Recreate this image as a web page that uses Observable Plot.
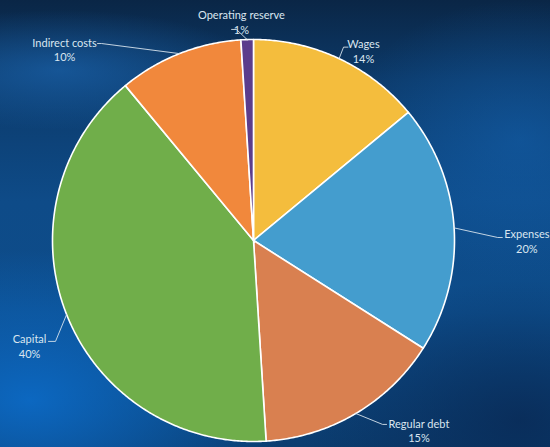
<!DOCTYPE html>
<html><head><meta charset="utf-8">
<script src="https://cdn.jsdelivr.net/npm/d3@7"></script>
<script src="https://cdn.jsdelivr.net/npm/@observablehq/plot@0.6"></script>
<style>
html,body{margin:0;padding:0;width:550px;height:447px;overflow:hidden;}
body{
  background:
    radial-gradient(ellipse 260px 150px at 30px 400px, rgba(12,110,205,0.85), rgba(12,110,205,0) 100%),
    radial-gradient(ellipse 200px 60px at 60px 70px, rgba(30,110,190,0.55), rgba(30,110,190,0) 100%),
    radial-gradient(ellipse 180px 140px at 520px 140px, rgba(20,100,180,0.5), rgba(20,100,180,0) 100%),
    radial-gradient(ellipse 220px 140px at 520px 420px, rgba(8,38,80,0.7), rgba(8,38,80,0) 100%),
    linear-gradient(180deg, #0a2646 0%, #0c3a6a 18%, #0e4b88 45%, #0d4c8a 70%, #0b3d70 100%);
}
#chart svg{display:block;background:transparent;}
</style></head><body><div id="chart"></div>
<script>
// ---- data ----
const categories = ["Wages", "Expenses", "Regular debt", "Capital", "Indirect costs", "Operating reserve"];
const shares = [14, 20, 15, 40, 10, 1];
const sliceColors = ["#f4bd3d", "#449dce", "#d98050", "#70ae4a", "#f1883c", "#5c3d8c"];

// ---- layout (unit-circle coordinates, not data) ----
const labelAt = [[0.547, 0.943], [1.360, -0.002], [0.823, -0.945], [-1.114, -0.525], [-0.940, 0.950], [-0.060, 1.087]];
const leaderElbow = [[0.448, 0.962], [1.215, 0.015], [0.642, -0.915], [-0.985, -0.502], [-0.756, 0.980], [-0.085, 1.050]];
const leaderEnd = [[0.470, 0.962], [1.238, 0.015], [0.662, -0.915], [-1.020, -0.502], [-0.776, 0.980], [-0.109, 1.050]];

const total = d3.sum(shares);
const cum = d3.cumsum(shares);
const slices = categories.map((name, i) => {
  const a0 = (cum[i] - shares[i]) / total * 360;
  const a1 = cum[i] / total * 360;
  return {name, share: shares[i], a0, a1, mid: (a0 + a1) / 2};
});
const rad = Math.PI / 180;
const pt = (deg, r = 1) => [r * Math.sin(deg * rad), r * Math.cos(deg * rad)];

const sliceRows = [];
for (const s of slices) {
  sliceRows.push({name: s.name, x: 0, y: 0});
  const n = Math.max(2, Math.ceil((s.a1 - s.a0) / 0.5));
  for (let k = 0; k <= n; k++) {
    const [x, y] = pt(s.a0 + (s.a1 - s.a0) * k / n);
    sliceRows.push({name: s.name, x, y});
  }
  sliceRows.push({name: s.name, x: 0, y: 0});
}

const leaderRows = [];
slices.forEach((s, i) => {
  const [sx, sy] = pt(s.mid);
  leaderRows.push({name: s.name, x: sx, y: sy});
  leaderRows.push({name: s.name, x: leaderElbow[i][0], y: leaderElbow[i][1]});
  leaderRows.push({name: s.name, x: leaderEnd[i][0], y: leaderEnd[i][1]});
});

const labelRows = slices.map((s, i) => ({
  name: s.name, x: labelAt[i][0], y: labelAt[i][1], text: `${s.name}\n${s.share}%`
}));

const chart = Plot.plot({
  width: 550,
  height: 447,
  margin: 0,
  style: {background: "transparent", overflow: "hidden"},
  x: {domain: [-1, 1], range: [52, 454], axis: null},
  y: {domain: [-1, 1], range: [441, 39], axis: null},
  color: {domain: categories, range: sliceColors},
  marks: [
    Plot.line(sliceRows, {x: "x", y: "y", z: "name", fill: "name", stroke: "#ffffff", strokeWidth: 1.6, strokeLinejoin: "round", curve: "linear"}),
    Plot.line(leaderRows, {x: "x", y: "y", z: "name", stroke: "#d6e2ec", strokeWidth: 1, strokeOpacity: 0.9}),
    Plot.text(labelRows, {x: "x", y: "y", text: "text", fill: "#dae6f0", fontSize: 11, lineHeight: 1.32, lineAnchor: "middle", textAnchor: "middle", fontFamily: "Lato, 'Open Sans', sans-serif"})
  ]
});
document.getElementById("chart").appendChild(chart);
</script>
</body></html>
